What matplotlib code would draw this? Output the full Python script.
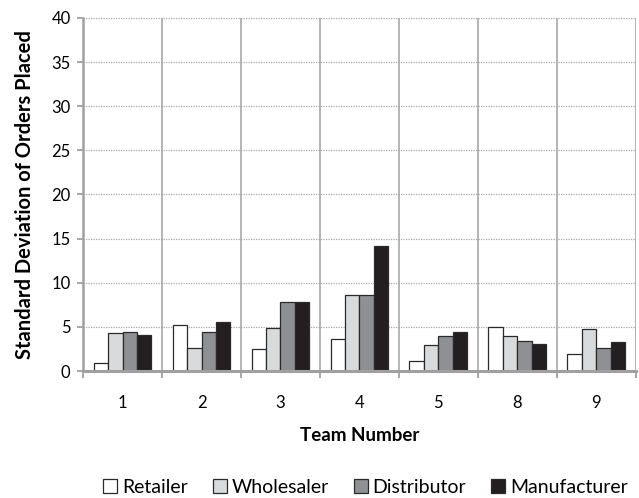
import numpy as np
import matplotlib.pyplot as plt
from matplotlib.ticker import FixedLocator

plt.rcParams['font.family'] = ['Lato', 'DejaVu Sans']

teams = ["1", "2", "3", "4", "5", "8", "9"]
retailer = [0.9, 5.2, 2.5, 3.6, 1.1, 4.95, 1.95]
wholesaler = [4.3, 2.65, 4.85, 8.6, 2.9, 4.0, 4.8]
distributor = [4.4, 4.4, 7.85, 8.6, 4.0, 3.45, 2.6]
manufacturer = [4.05, 5.5, 7.85, 14.2, 4.4, 3.05, 3.3]

series = [("Retailer", retailer, "#ffffff"),
          ("Wholesaler", wholesaler, "#d9dadb"),
          ("Distributor", distributor, "#8f9093"),
          ("Manufacturer", manufacturer, "#231f20")]

fig = plt.figure(figsize=(6.39, 4.98), dpi=100)
ax = fig.add_axes([0.130, 0.255, 0.865, 0.709])

x = np.arange(len(teams))
w = 0.183
for i, (name, vals, col) in enumerate(series):
    ax.bar(x + (i - 1.5) * w, vals, w, color=col, edgecolor="#2a2a2a",
           linewidth=0.9, label=name, zorder=3)

ax.set_xlim(-0.5, len(teams) - 0.5)
ax.set_ylim(0, 40)
ax.set_yticks(np.arange(0, 41, 5))
ax.set_xticks(x)
ax.set_xticklabels(teams)
ax.xaxis.set_minor_locator(FixedLocator(np.arange(-0.5, len(teams), 1.0)))
ax.tick_params(axis="x", which="major", length=0, labelsize=12, pad=17)
ax.tick_params(axis="x", which="minor", length=5, color="#a0a0a0", width=1.3)
ax.tick_params(axis="y", length=4, color="#a0a0a0", width=1.3, labelsize=12,
               pad=5)

ax.grid(True, axis="y", which="major", linestyle=(0, (1, 1)), color="#a8a8a8",
        linewidth=0.9, zorder=0)
ax.grid(True, axis="x", which="minor", linestyle="-", color="#a8a8a8",
        linewidth=1.2, zorder=0)

for s in ["top", "right"]:
    ax.spines[s].set_visible(False)
ax.spines["left"].set_color("#a0a0a0")
ax.spines["left"].set_linewidth(1.8)
ax.spines["bottom"].set_color("#a0a0a0")
ax.spines["bottom"].set_linewidth(2.2)
ax.spines["bottom"].set_zorder(4)

ax.set_xlabel("Team Number", fontsize=13.5, fontweight="bold", labelpad=12)
ax.set_ylabel("Standard Deviation of Orders Placed", fontsize=14.5,
              fontweight="bold", labelpad=12)

fig.legend(loc="center", bbox_to_anchor=(0.572, 0.022), ncol=4, frameon=False,
           fontsize=14, handlelength=0.7, handleheight=0.7, handletextpad=0.25,
           columnspacing=1.3)

fig.savefig("out.png", dpi=100)
